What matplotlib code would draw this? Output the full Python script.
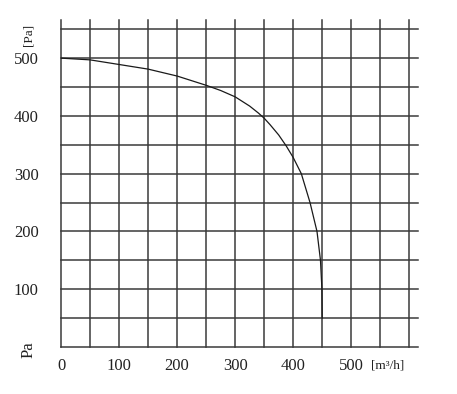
import numpy as np
import matplotlib
matplotlib.use('Agg')
import matplotlib.pyplot as plt

# fan curve: airflow [m3/h] vs static pressure [Pa]
flow = [0, 50, 100, 150, 200, 250, 275, 300, 325, 340, 350, 360, 375, 388, 400, 414, 429, 441, 447, 449.5, 450]
pressure = [500, 497, 489, 481, 469, 453, 444, 433, 417, 405, 396, 385, 367, 348, 328, 300, 250, 200, 150, 100, 50]

x_ticks = [0, 100, 200, 300, 400, 500]
y_ticks = [100, 200, 300, 400, 500]

plt.rcParams['font.family'] = ['Liberation Serif', 'DejaVu Serif']

fig = plt.figure(figsize=(4.57, 3.94), dpi=100)
ax = fig.add_axes([61 / 457, 47 / 394, 357 / 457, 327 / 394])

ax.set_xlim(0, 615)
ax.set_ylim(0, 566)

# grid every 50 units
for gx in np.arange(0, 601, 50):
    ax.axvline(gx, color='#3a3a3a', lw=1.1, zorder=1, clip_on=False)
for gy in np.arange(0, 551, 50):
    ax.axhline(gy, color='#3a3a3a', lw=1.1, zorder=1, clip_on=False)

ax.plot(flow, pressure, color='#1a1a1a', lw=0.9, zorder=3)

for s in ['top', 'right', 'left', 'bottom']:
    ax.spines[s].set_visible(False)

ax.set_xticks(x_ticks)
ax.set_yticks(y_ticks)
ax.tick_params(axis='both', length=0, labelsize=12, colors='#222222')
ax.tick_params(axis='x', pad=8)
ax.tick_params(axis='y', pad=16)

fig.text(371 / 457, 1 - 366 / 394, '[m³/h]', fontsize=9.5, ha='left', va='center', color='#222222')
fig.text(29 / 457, 1 - 35 / 394, '[Pa]', fontsize=9.5, rotation=90, ha='center', va='center', color='#222222')
fig.text(29 / 457, 1 - 350 / 394, 'Pa', fontsize=12, rotation=90, ha='center', va='center', color='#222222')

fig.savefig('out.png', dpi=100)
